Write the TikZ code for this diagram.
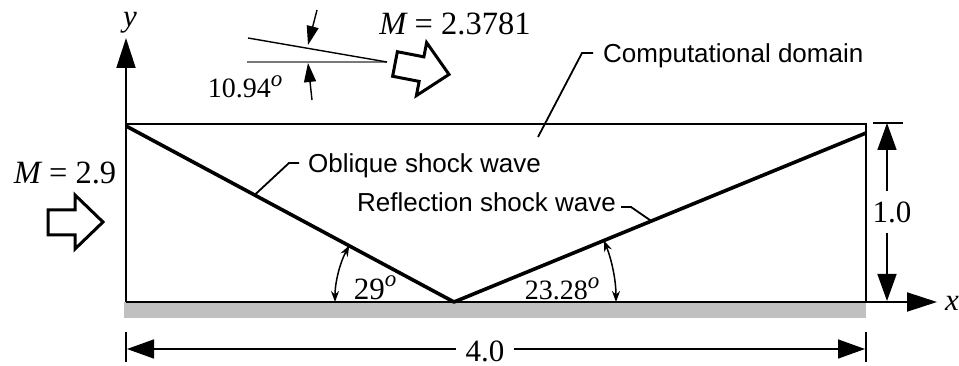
\documentclass[tikz,border=0pt]{standalone}
\usepackage{fontspec}
\setmainfont{Liberation Serif}
\setsansfont{Liberation Sans}
\usetikzlibrary{arrows.meta,calc}
\definecolor{wallgray}{RGB}{192,192,192}
\definecolor{linegray}{RGB}{120,120,120}
\newcommand\degsup{\raisebox{0.42em}{\fontsize{23}{23}\selectfont\itshape o}}
\begin{document}
\begin{tikzpicture}[x=1pt,y=-1pt,
  sanslbl/.style={font=\sffamily\fontsize{26}{30}\selectfont, inner sep=0pt},
  serlbl/.style={font=\fontsize{31}{34}\selectfont, inner sep=0pt},
  biglbl/.style={font=\fontsize{32.5}{36}\selectfont, inner sep=0pt},
  smlbl/.style={font=\fontsize{28}{32}\selectfont, inner sep=0pt},
  thinline/.style={line width=1.8pt},
  shockline/.style={line width=3.6pt, line join=round},
  leader/.style={line width=1.8pt},
  axisarrow/.style={line width=2pt,-{Triangle[length=30pt,width=19pt]}},
  dimarrow/.style={line width=1.6pt,-{Triangle[length=27pt,width=19pt]}},
  smallarrow/.style={line width=1.4pt,-{Triangle[length=19pt,width=12pt]}},
  arcarrow/.style={line width=1.5pt,{Stealth[length=11pt,width=8pt]}-{Stealth[length=11pt,width=8pt]}},
  blockarrow/.style={line width=3pt, line join=miter, fill=white},
]
\useasboundingbox (0,0) rectangle (959,366);

% key points
\coordinate (TL) at (126,124);
\coordinate (TR) at (866,124);
\coordinate (BL) at (126,302);
\coordinate (BR) at (866,302);
\coordinate (Sstart) at (126,126);
\coordinate (Bshock) at (454,302);
\coordinate (Send) at (866,133);
\coordinate (Ytip) at (126,38);
\coordinate (Xtip) at (937,302);

% wall
\fill[wallgray] (124,302) rectangle (866,318);

% domain
\draw[thinline] (BL) -- (BR) -- (TR) -- (TL);

% axes
\draw[axisarrow] (BL) -- (Ytip);
\draw[axisarrow] (BR) -- (Xtip);
\node[serlbl, anchor=base] (ylab) at (130,27) {\itshape y};
\node[serlbl, anchor=west] (xlab) at (945,303) {\itshape x};

% shocks
\draw[shockline] (Sstart) -- (Bshock) -- (Send);

% angle arcs
\coordinate (arcA0) at ($(Bshock)+(-119,0)$);
\draw[arcarrow] (arcA0) arc[start angle=180, end angle=151.6, radius=119pt];
\coordinate (arcB0) at ($(Bshock)+(162,0)$);
\draw[arcarrow] (arcB0) arc[start angle=0, end angle=22.3, radius=162pt];
\node[serlbl, anchor=base] (a29) at (375,300) {29\degsup};
\node[smlbl, anchor=base] (a23) at (562,300) {23.28\degsup};

% labels with leaders
\node[sanslbl, anchor=base west] (dom) at (603,63) {Computational domain};
\node[sanslbl, anchor=base west] (obl) at (308,173) {Oblique shock wave};
\node[sanslbl, anchor=base west] (ref) at (357,212) {Reflection shock wave};

\coordinate (domP) at (538,137);
\coordinate (domK) at (582,53);
\coordinate (domE) at (593,53);
\draw[leader] (domP) -- (domK) -- (domE);

\coordinate (oblP) at ($(Sstart)!0.392!(Bshock)$);
\coordinate (oblK) at (289,163);
\coordinate (oblE) at (299,163);
\draw[leader] (oblP) -- (oblK) -- (oblE);

\coordinate (refP) at ($(Bshock)!0.479!(Send)$);
\coordinate (refK) at (631,207);
\coordinate (refE) at (621,207);
\draw[leader] (refE) -- (refK) -- (refP);

% height dimension
\coordinate (HdTop) at (887,123);
\coordinate (HdBot) at (887,301);
\draw[thinline] (873,123) -- (903,123);
\node[serlbl, inner ysep=10pt] (hlab) at (892,212) {1.0};
\draw[dimarrow] (hlab.north -| HdTop) -- (HdTop);
\draw[dimarrow] (hlab.south -| HdBot) -- (HdBot);

% width dimension
\coordinate (WdL) at (127,349);
\coordinate (WdR) at (865,349);
\draw[thinline] (126,332) -- (126,362);
\draw[thinline] (866,332) -- (866,362);
\node[serlbl, inner xsep=9pt] (wlab) at (485,351) {4.0};
\draw[dimarrow] (wlab.west |- WdL) -- (WdL);
\draw[dimarrow] (wlab.east |- WdR) -- (WdR);

% inflow
\draw[blockarrow] (48,210) -- (75,210) -- (75,195) -- (103,222) -- (75,249) -- (75,235) -- (48,235) -- cycle;
\node[biglbl, anchor=base] (m29) at (65,184) {\itshape M\upshape{} = 2.9};

% outflow
\begin{scope}[shift={(395,64)}, rotate=-10.94]
\draw[blockarrow] (0,-12.5) -- (27,-12.5) -- (27,-27) -- (55,0) -- (27,27) -- (27,12.5) -- (0,12.5) -- cycle;
\end{scope}
\node[biglbl, anchor=base] (m23) at (455,35) {\itshape M\upshape{} = 2.3781};

% deflection angle indicator
\coordinate (IndV) at (387,62);
\coordinate (IndLo) at (247,62);
\coordinate (IndUp) at (248,38);
\draw[line width=1.3pt, linegray] (IndLo) -- (IndV);
\draw[line width=1.4pt] (IndUp) -- (IndV);
\coordinate (sa1s) at (317,10);
\coordinate (sa1e) at (308,45);
\coordinate (sa2s) at (312,100);
\coordinate (sa2e) at (308,63);
\draw[smallarrow] (sa1s) -- (sa1e);
\draw[smallarrow] (sa2s) -- (sa2e);
\node[smlbl, anchor=base] (a1094) at (245,98) {10.94\degsup};
\end{tikzpicture}
\end{document}
